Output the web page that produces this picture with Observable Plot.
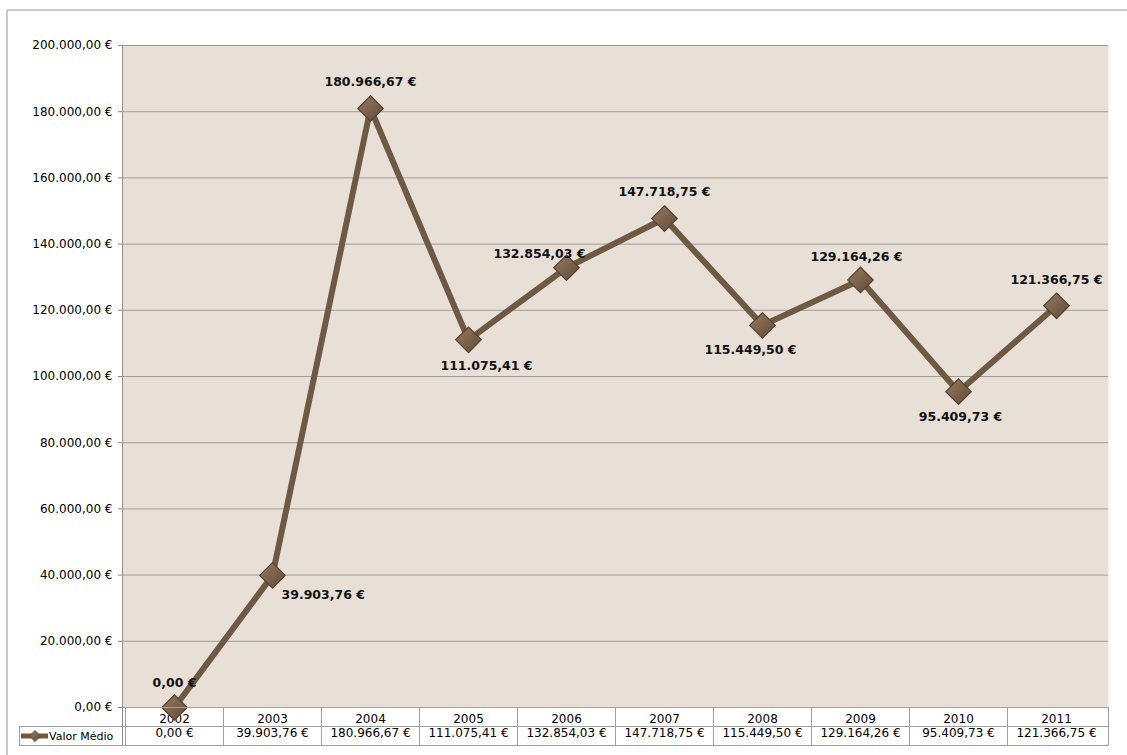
<!DOCTYPE html>
<html lang="pt">
<head>
<meta charset="utf-8">
<script src="https://cdn.jsdelivr.net/npm/d3@7"></script>
<script src="https://cdn.jsdelivr.net/npm/@observablehq/plot@0.6"></script>
<style>
  html, body { margin: 0; padding: 0; background: #fff; overflow: hidden; }
  #chart svg { display: block; }
</style>
</head>
<body>
<div id="chart"></div>
<script>
// Valor médio por ano
const years = ["2002", "2003", "2004", "2005", "2006", "2007", "2008", "2009", "2010", "2011"];
const values = [0, 39903.76, 180966.67, 111075.41, 132854.03, 147718.75, 115449.50, 129164.26, 95409.73, 121366.75];
const seriesName = "Valor Médio";
const yTicks = [0, 20000, 40000, 60000, 80000, 100000, 120000, 140000, 160000, 180000, 200000];

// Portuguese number format: 1.234,56 €
const locale = d3.formatLocale({decimal: ",", thousands: ".", grouping: [3], currency: ["", " €"]});
const euro = locale.format("$,.2f");

const rows = years.map((year, i) => ({year, value: values[i]}));

// where each value label sits relative to its marker (px)
const labelPlacement = [
  {dx: 0, dy: -25, anchor: "middle"},
  {dx: 9, dy: 20, anchor: "start"},
  {dx: 0, dy: -27, anchor: "middle"},
  {dx: 18, dy: 26, anchor: "middle"},
  {dx: -27, dy: -14, anchor: "middle"},
  {dx: 0, dy: -27, anchor: "middle"},
  {dx: -12, dy: 25, anchor: "middle"},
  {dx: -4, dy: -23, anchor: "middle"},
  {dx: 2, dy: 25, anchor: "middle"},
  {dx: 0, dy: -26, anchor: "middle"}
];

const lineColor = "#6E5943";
const gridColor = "#A29B94";
const tableColor = "#A0A0A0";

const valueLabels = rows.map((d, i) => Plot.text([d], {
  x: "year", y: "value", text: (r) => euro(r.value),
  dx: labelPlacement[i].dx, dy: labelPlacement[i].dy,
  textAnchor: labelPlacement[i].anchor,
  fontSize: 12.5, fontWeight: "bold", fill: "#111"
}));

const chart = Plot.plot({
  width: 1127,
  height: 755,
  marginTop: 45,
  marginBottom: 48,
  marginLeft: 122,
  marginRight: 19,
  style: {fontFamily: "'DejaVu Sans', sans-serif", fontSize: "12px", color: "#000", background: "#fff", overflow: "visible"},
  x: {type: "band", domain: years, padding: 0, label: null},
  y: {domain: [0, 200000], label: null},
  marks: [
    Plot.frame({fill: "#E8E0D7", stroke: null}),
    Plot.gridY(yTicks, {stroke: gridColor, strokeOpacity: 1, strokeWidth: 1}),
    Plot.axisY(yTicks, {tickFormat: euro, tickSize: 4, tickPadding: 6, stroke: "#8E8E8E", label: null, fontSize: 12}),
    Plot.axisX({tickSize: 0, tickPadding: 7, label: null, fontSize: 12}),
    Plot.line(rows, {x: "year", y: "value", stroke: lineColor, strokeWidth: 6, strokeLinejoin: "round"}),
    Plot.dot(rows, {x: "year", y: "value", symbol: "diamond2", r: 11.5, fill: "url(#marker-fill)", stroke: "#57432F", strokeWidth: 1.2}),
    ...valueLabels,
    Plot.text(rows, {x: "year", text: (d) => euro(d.value), frameAnchor: "bottom", dy: 29, fontSize: 12, fill: "#000"})
  ]
});

document.getElementById("chart").appendChild(chart);

// marker gradient
const svg = d3.select(chart);
const grad = svg.insert("defs", ":first-child").append("linearGradient")
  .attr("id", "marker-fill").attr("x1", 0).attr("y1", 0).attr("x2", 1).attr("y2", 1);
grad.append("stop").attr("offset", "0%").attr("stop-color", "#967B62");
grad.append("stop").attr("offset", "55%").attr("stop-color", "#7A6049");
grad.append("stop").attr("offset", "100%").attr("stop-color", "#5F4935");

// data table grid under the plot
const xs = chart.scale("x");
const ys = chart.scale("y");
const plotLeft = xs.range[0], plotRight = xs.range[1];
const plotTop = ys.apply(200000), plotBase = ys.apply(0);
const rowH = 19;
const legendLeft = 19;
const g = svg.append("g").attr("stroke", tableColor).attr("stroke-width", 1).attr("fill", "none");
const hline = (y, x1, x2) => g.append("line").attr("x1", x1).attr("x2", x2).attr("y1", y).attr("y2", y);
const vline = (x, y1, y2) => g.append("line").attr("x1", x).attr("x2", x).attr("y1", y1).attr("y2", y2);
hline(plotBase + 0.5, plotLeft, plotRight);
hline(plotBase + rowH + 0.5, legendLeft, plotRight);
hline(plotBase + 2 * rowH + 0.5, legendLeft, plotRight);
years.forEach((y) => vline(Math.round(xs.apply(y)) + 0.5, plotBase, plotBase + 2 * rowH));
vline(Math.round(plotRight) + 0.5, plotBase, plotBase + 2 * rowH);
vline(plotLeft + 0.5, plotTop, plotBase + 2 * rowH).attr("stroke", "#8E8E8E");
vline(legendLeft + 0.5, plotBase + rowH, plotBase + 2 * rowH);

// legend key in the table's row header
const ky = plotBase + rowH * 1.5 + 0.5;
const key = svg.append("g");
key.append("line").attr("x1", 21).attr("x2", 48).attr("y1", ky).attr("y2", ky)
  .attr("stroke", lineColor).attr("stroke-width", 5);
key.append("path").attr("d", d3.symbol(d3.symbolDiamond2, 80)()).attr("transform", `translate(35,${ky})`)
  .attr("fill", "url(#marker-fill)").attr("stroke", "#57432F").attr("stroke-width", 0.8);
key.append("text").attr("x", 49).attr("y", ky).attr("dy", "0.35em")
  .attr("text-anchor", "start")
  .attr("font-family", "'DejaVu Sans', sans-serif").attr("font-size", 11).attr("fill", "#000")
  .text(seriesName);

// outer chart border
const border = svg.append("g").attr("stroke", "#B8B8B8").attr("stroke-width", 1.5);
border.append("line").attr("x1", 7).attr("x2", 1127).attr("y1", 10).attr("y2", 10);
border.append("line").attr("x1", 7).attr("x2", 7).attr("y1", 10).attr("y2", 755);
</script>
</body>
</html>
